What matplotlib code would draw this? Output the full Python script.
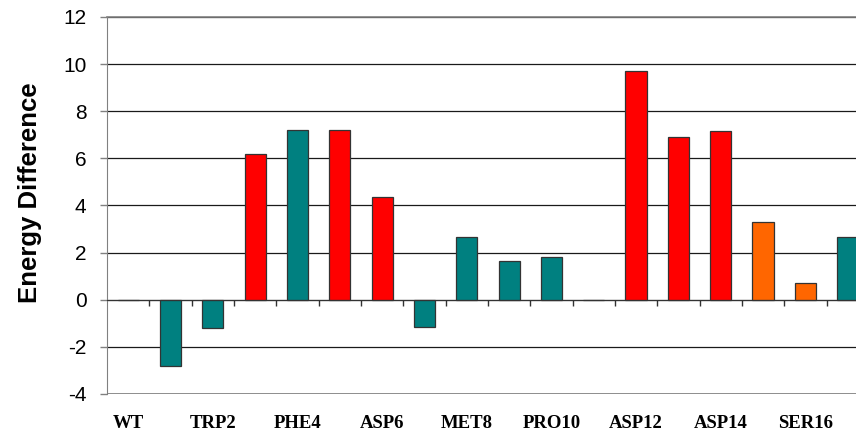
import matplotlib
matplotlib.use("Agg")
import matplotlib.pyplot as plt
import numpy as np

plt.rcParams["axes.unicode_minus"] = False

# one bar per mutant, only every other one is labelled on the axis
values = [0.0, -2.8, -1.2, 6.2, 7.2, 7.2, 4.35, -1.15, 2.65, 1.65,
          1.8, 0.0, 9.7, 6.9, 7.15, 3.3, 0.7, 2.65]
bar_colors = ["#008080", "#008080", "#008080", "#FF0000", "#008080", "#FF0000",
              "#FF0000", "#008080", "#008080", "#008080", "#008080", "#008080",
              "#FF0000", "#FF0000", "#FF0000", "#FF6600", "#FF6600", "#008080"]
tick_labels = ["WT", "TRP2", "PHE4", "ASP6", "MET8", "PRO10", "ASP12", "ASP14", "SER16"]
y_ticks = [-4, -2, 0, 2, 4, 6, 8, 10, 12]

fig = plt.figure(figsize=(8.56, 4.37), dpi=100)
ax = fig.add_axes([0.125, 0.0984, 0.89, 0.863])

x = np.arange(len(values))
ax.bar(x, values, width=0.5, color=bar_colors, edgecolor="#333333",
       linewidth=0.9, zorder=3)

ax.set_xlim(-0.5, len(values) - 0.5)
ax.set_ylim(y_ticks[0], y_ticks[-1])
ax.set_yticks(y_ticks)
ax.set_axisbelow(True)
ax.yaxis.grid(True, color="#1a1a1a", linewidth=0.9)

# x axis sits on zero, with ticks between the categories
ax.spines["bottom"].set_position(("data", 0))
ax.spines["bottom"].set_color("#333333")
ax.spines["bottom"].set_zorder(4)
ax.spines["right"].set_visible(False)
ax.spines["top"].set_color("#808080")
ax.spines["top"].set_linewidth(1.2)
ax.spines["left"].set_color("#808080")
ax.axhline(y_ticks[0], color="#808080", linewidth=1.2, zorder=2.5)

ax.set_xticks([])
ax.set_xticks(x[:-1] + 0.5, minor=True)
ax.tick_params(axis="x", which="minor", direction="out", length=4,
               width=1.0, color="#333333")
ax.tick_params(axis="y", direction="out", length=5.3, width=1.0,
               color="#808080", pad=9.5, labelsize=15)
for lab in ax.get_yticklabels():
    lab.set_fontfamily("Liberation Sans")

for i, name in enumerate(tick_labels):
    ax.text(2 * i, -0.077, name, transform=ax.get_xaxis_transform(),
            ha="center", va="center", fontsize=13.5, fontweight="bold",
            family="Liberation Serif")

fig.text(30 / 856, 0.559, "Energy Difference", rotation=90, ha="center",
         va="center", fontsize=18.5, fontweight="bold", family="Liberation Sans")

fig.savefig("out.png", dpi=100)
plt.close(fig)
